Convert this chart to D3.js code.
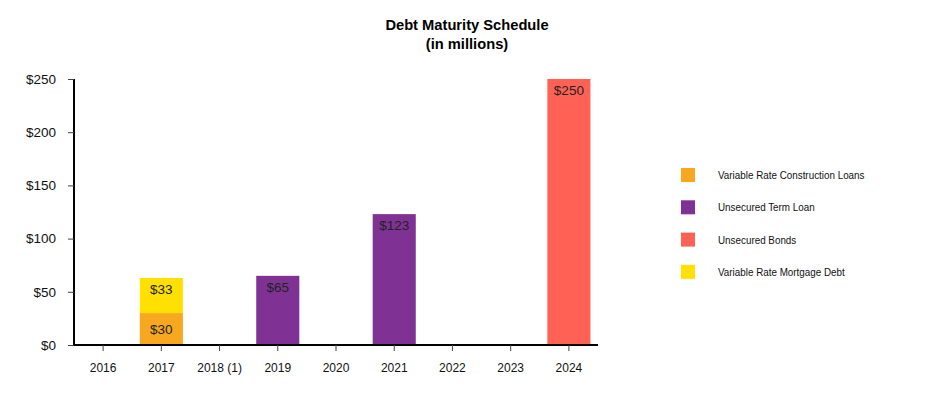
<!DOCTYPE html>
<html><head><meta charset="utf-8">
<script src="https://cdn.jsdelivr.net/npm/d3@7"></script>
<style>body{margin:0;background:#fff;font-family:"Liberation Sans",Arial,sans-serif;}</style>
</head><body><svg id="c" width="933" height="400"></svg>
<script>
const categories = ["2016","2017","2018 (1)","2019","2020","2021","2022","2023","2024"];
const seriesNames = ["Variable Rate Construction Loans","Unsecured Term Loan","Unsecured Bonds","Variable Rate Mortgage Debt"];
const constructionLoans = [0,30,0,0,0,0,0,0,0];
const termLoan = [0,0,0,65,0,123,0,0,0];
const bonds = [0,0,0,0,0,0,0,0,250];
const mortgageDebt = [0,33,0,0,0,0,0,0,0];
const yTicks = [0,50,100,150,200,250];
const colors = ["#F8A81E","#7F3294","#FF6254","#FFE000"];

const svg = d3.select("#c");
const x = d3.scaleBand().domain(categories).range([74,598]).paddingInner(0.26).paddingOuter(0.13);
const y = d3.scaleLinear().domain([0,250]).range([345,79]);

const rows = categories.map((c,i)=>({cat:c, s0:constructionLoans[i], s1:termLoan[i], s2:bonds[i], s3:mortgageDebt[i]}));
const stack = d3.stack().keys(["s0","s1","s2","s3"])(rows);

// title
svg.append("text").attr("x",467).attr("y",30).attr("text-anchor","middle").attr("font-weight","bold").attr("font-size",14.7).text("Debt Maturity Schedule");
svg.append("text").attr("x",467).attr("y",49).attr("text-anchor","middle").attr("font-weight","bold").attr("font-size",14.7).text("(in millions)");

// bars
stack.forEach((layer,li)=>{
  const g = svg.append("g").attr("fill",colors[li]);
  layer.forEach(d=>{
    const v = d[1]-d[0];
    if(v<=0) return;
    g.append("rect").attr("x",x(d.data.cat)).attr("width",x.bandwidth())
      .attr("y",y(d[1])).attr("height",y(d[0])-y(d[1]));
    const top = y(d[1]);
    const ly = (li===0 && d.data.s3>0) ? (y(d[0])+y(d[1]))/2+5 : top+16;
    svg.append("text").attr("x",x(d.data.cat)+x.bandwidth()/2).attr("y",ly)
      .attr("text-anchor","middle").attr("font-size",13.5).attr("fill","#222").text("$"+v);
  });
});

// axes
const ya = svg.append("g").attr("transform","translate(74,0)")
  .call(d3.axisLeft(y).tickValues(yTicks).tickSize(6).tickPadding(12).tickFormat(d=>"$"+d));
ya.selectAll("text").attr("font-size",13.5).attr("font-family","Liberation Sans, Arial").attr("fill","#111");
ya.select(".domain").attr("stroke","#000").attr("stroke-width",2).attr("d","M0,79V345");
ya.selectAll(".tick line").attr("stroke","#444");

const xa = svg.append("g").attr("transform","translate(0,345)")
  .call(d3.axisBottom(x).tickSize(6).tickPadding(12));
xa.selectAll("text").attr("font-size",12).attr("font-family","Liberation Sans, Arial").attr("fill","#111");
xa.select(".domain").attr("stroke","#000").attr("stroke-width",2).attr("d","M74,0H598");
xa.selectAll(".tick line").attr("stroke","#444");

// legend
const lg = svg.append("g");
seriesNames.forEach((n,i)=>{
  const yy = 175 + i*32.3;
  lg.append("rect").attr("x",681).attr("y",yy-7).attr("width",14).attr("height",14).attr("fill",colors[i]);
  const t = lg.append("text").attr("x",718).attr("y",yy+4).attr("font-size",11).attr("fill","#111").text(n);
  const w = t.node().getComputedTextLength();
  t.attr("textLength", w*0.895).attr("lengthAdjust","spacingAndGlyphs");
});
</script></body></html>
